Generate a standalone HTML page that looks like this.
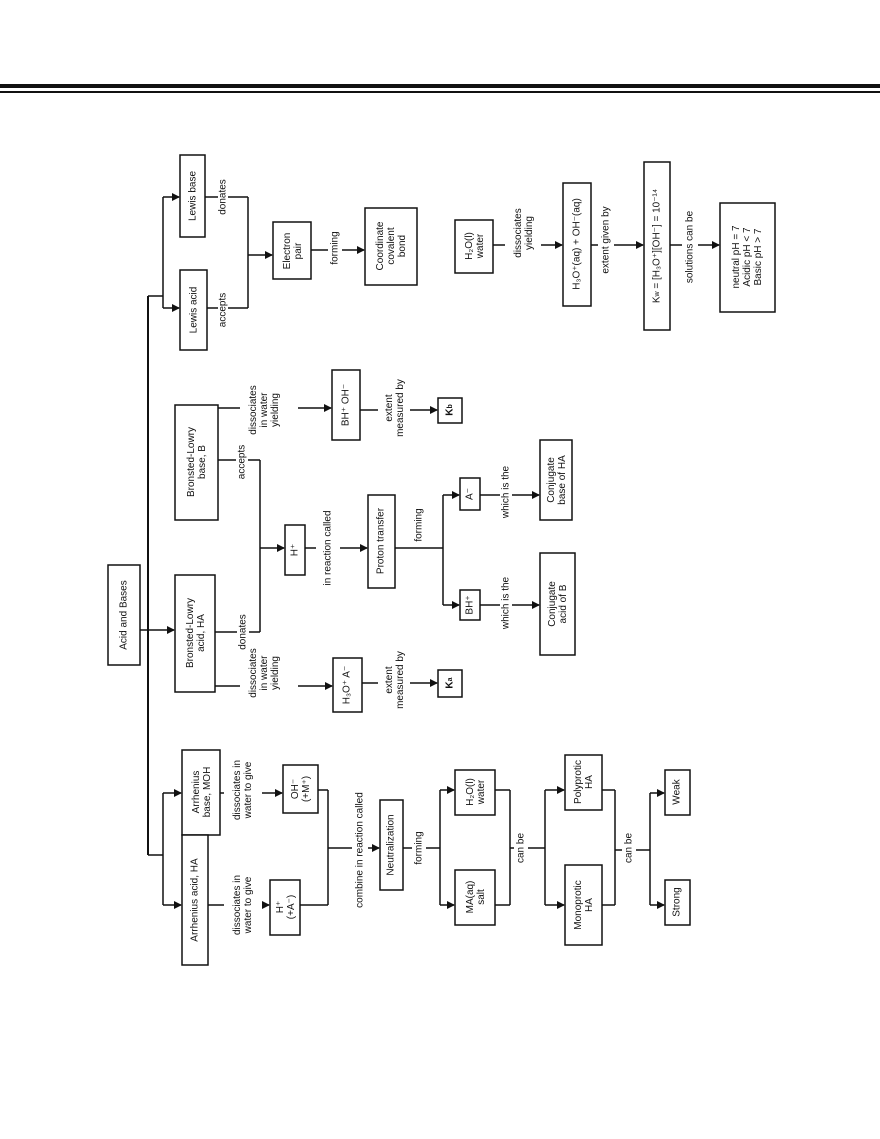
<!DOCTYPE html>
<html><head><meta charset="utf-8"><style>
html,body{margin:0;padding:0;background:#fff;}
svg{display:block}
text{font-family:"Liberation Sans",sans-serif;font-size:10px;fill:#111}
</style></head><body>
<svg width="880" height="1139" viewBox="0 0 880 1139" xmlns="http://www.w3.org/2000/svg">
<defs><marker id="a" markerWidth="8" markerHeight="8" refX="7" refY="4" orient="auto" markerUnits="userSpaceOnUse"><path d="M0,0 L8,4 L0,8 z" fill="#111"/></marker></defs>
<rect x="0" y="84" width="880" height="4" fill="#111"/>
<rect x="0" y="91" width="880" height="2" fill="#111"/>
<g stroke="#111" stroke-width="1.5" fill="#fff">
<rect x="108" y="565" width="32" height="100"/>
<rect x="180" y="155" width="25" height="82"/>
<rect x="180" y="270" width="27" height="80"/>
<rect x="273" y="222" width="38" height="57"/>
<rect x="365" y="208" width="52" height="77"/>
<rect x="175" y="405" width="43" height="115"/>
<rect x="175" y="575" width="40" height="117"/>
<rect x="332" y="370" width="28" height="70"/>
<rect x="438" y="398" width="24" height="25"/>
<rect x="333" y="658" width="29" height="54"/>
<rect x="438" y="670" width="24" height="27"/>
<rect x="285" y="525" width="20" height="50"/>
<rect x="368" y="495" width="27" height="93"/>
<rect x="460" y="478" width="20" height="32"/>
<rect x="460" y="590" width="20" height="30"/>
<rect x="540" y="440" width="32" height="80"/>
<rect x="540" y="553" width="35" height="102"/>
<rect x="182" y="750" width="38" height="85"/>
<rect x="182" y="835" width="26" height="130"/>
<rect x="283" y="765" width="35" height="48"/>
<rect x="270" y="880" width="30" height="55"/>
<rect x="380" y="800" width="23" height="90"/>
<rect x="455" y="770" width="40" height="45"/>
<rect x="455" y="870" width="40" height="55"/>
<rect x="565" y="755" width="37" height="55"/>
<rect x="565" y="865" width="37" height="80"/>
<rect x="665" y="770" width="25" height="45"/>
<rect x="665" y="880" width="25" height="45"/>
<rect x="455" y="220" width="38" height="53"/>
<rect x="563" y="183" width="28" height="123"/>
<rect x="644" y="162" width="26" height="168"/>
<rect x="720" y="203" width="55" height="109"/>
</g>
<g stroke="#111" stroke-width="1.5" fill="none">
<line x1="140" y1="630" x2="174" y2="630" marker-end="url(#a)"/>
<line x1="148" y1="296" x2="148" y2="855" stroke-width="2"/>
<line x1="148" y1="296" x2="163" y2="296"/>
<line x1="163" y1="197" x2="163" y2="308"/>
<line x1="163" y1="197" x2="179" y2="197" marker-end="url(#a)"/>
<line x1="163" y1="308" x2="179" y2="308" marker-end="url(#a)"/>
<line x1="205" y1="197" x2="248" y2="197"/>
<line x1="207" y1="308" x2="248" y2="308"/>
<line x1="248" y1="197" x2="248" y2="308"/>
<line x1="248" y1="255" x2="272" y2="255" marker-end="url(#a)"/>
<line x1="311" y1="250" x2="364" y2="250" marker-end="url(#a)"/>
<line x1="148" y1="855" x2="163" y2="855"/>
<line x1="163" y1="793" x2="163" y2="905"/>
<line x1="163" y1="793" x2="181" y2="793" marker-end="url(#a)"/>
<line x1="163" y1="905" x2="181" y2="905" marker-end="url(#a)"/>
<line x1="218" y1="408" x2="331" y2="408" marker-end="url(#a)"/>
<line x1="218" y1="460" x2="260" y2="460"/>
<line x1="215" y1="632" x2="260" y2="632"/>
<line x1="260" y1="460" x2="260" y2="632"/>
<line x1="260" y1="548" x2="284" y2="548" marker-end="url(#a)"/>
<line x1="305" y1="548" x2="367" y2="548" marker-end="url(#a)"/>
<line x1="215" y1="686" x2="332" y2="686" marker-end="url(#a)"/>
<line x1="360" y1="410" x2="437" y2="410" marker-end="url(#a)"/>
<line x1="362" y1="683" x2="437" y2="683" marker-end="url(#a)"/>
<line x1="395" y1="548" x2="443" y2="548"/>
<line x1="443" y1="495" x2="443" y2="605"/>
<line x1="443" y1="495" x2="459" y2="495" marker-end="url(#a)"/>
<line x1="443" y1="605" x2="459" y2="605" marker-end="url(#a)"/>
<line x1="480" y1="495" x2="539" y2="495" marker-end="url(#a)"/>
<line x1="480" y1="605" x2="539" y2="605" marker-end="url(#a)"/>
<line x1="220" y1="793" x2="282" y2="793" marker-end="url(#a)"/>
<line x1="208" y1="905" x2="269" y2="905" marker-end="url(#a)"/>
<line x1="318" y1="790" x2="328" y2="790"/>
<line x1="300" y1="905" x2="328" y2="905"/>
<line x1="328" y1="790" x2="328" y2="905"/>
<line x1="328" y1="848" x2="379" y2="848" marker-end="url(#a)"/>
<line x1="403" y1="848" x2="440" y2="848"/>
<line x1="440" y1="790" x2="440" y2="905"/>
<line x1="440" y1="790" x2="454" y2="790" marker-end="url(#a)"/>
<line x1="440" y1="905" x2="454" y2="905" marker-end="url(#a)"/>
<line x1="495" y1="790" x2="510" y2="790"/>
<line x1="495" y1="905" x2="510" y2="905"/>
<line x1="510" y1="790" x2="510" y2="905"/>
<line x1="510" y1="848" x2="545" y2="848"/>
<line x1="545" y1="790" x2="545" y2="905"/>
<line x1="545" y1="790" x2="564" y2="790" marker-end="url(#a)"/>
<line x1="545" y1="905" x2="564" y2="905" marker-end="url(#a)"/>
<line x1="602" y1="790" x2="615" y2="790"/>
<line x1="602" y1="905" x2="615" y2="905"/>
<line x1="615" y1="790" x2="615" y2="905"/>
<line x1="615" y1="850" x2="650" y2="850"/>
<line x1="650" y1="793" x2="650" y2="905"/>
<line x1="650" y1="793" x2="664" y2="793" marker-end="url(#a)"/>
<line x1="650" y1="905" x2="664" y2="905" marker-end="url(#a)"/>
<line x1="493" y1="245" x2="562" y2="245" marker-end="url(#a)"/>
<line x1="591" y1="245" x2="643" y2="245" marker-end="url(#a)"/>
<line x1="670" y1="245" x2="719" y2="245" marker-end="url(#a)"/>
</g>
<g text-anchor="middle" dominant-baseline="middle">
<g fill="#fff"><rect x="218" y="175" width="10" height="45"/><rect x="218" y="290" width="10" height="40"/><rect x="328" y="225" width="14" height="45"/><rect x="236" y="440" width="12" height="42"/><rect x="237" y="610" width="12" height="45"/><rect x="240" y="375" width="58" height="70"/><rect x="240" y="640" width="58" height="70"/><rect x="378" y="372" width="32" height="72"/><rect x="378" y="645" width="32" height="72"/><rect x="316" y="500" width="24" height="95"/><rect x="412" y="505" width="14" height="40"/><rect x="500" y="460" width="12" height="60"/><rect x="500" y="570" width="12" height="60"/><rect x="224" y="750" width="38" height="80"/><rect x="224" y="870" width="38" height="70"/><rect x="352" y="770" width="16" height="160"/><rect x="412" y="825" width="14" height="45"/><rect x="514" y="830" width="14" height="35"/><rect x="622" y="830" width="14" height="35"/><rect x="505" y="200" width="36" height="70"/><rect x="598" y="190" width="16" height="100"/><rect x="682" y="200" width="16" height="95"/></g>
<text transform="translate(124,615) rotate(-90)">Acid and Bases</text>
<text transform="translate(193,196) rotate(-90)">Lewis base</text>
<text transform="translate(194,310) rotate(-90)">Lewis acid</text>
<text transform="translate(223,197) rotate(-90)">donates</text>
<text transform="translate(223,310) rotate(-90)">accepts</text>
<text transform="translate(292,251) rotate(-90)"><tspan x="0" dy="-5">Electron</tspan><tspan x="0" dy="11">pair</tspan></text>
<text transform="translate(335,248) rotate(-90)">forming</text>
<text transform="translate(391,246) rotate(-90)"><tspan x="0" dy="-11">Coordinate</tspan><tspan x="0" dy="11">covalent</tspan><tspan x="0" dy="11">bond</tspan></text>
<text transform="translate(196,462) rotate(-90)"><tspan x="0" dy="-5">Bronsted-Lowry</tspan><tspan x="0" dy="11">base, B</tspan></text>
<text transform="translate(242,462) rotate(-90)">accepts</text>
<text transform="translate(269,410) rotate(-90)"><tspan x="0" dy="-16">dissociates</tspan><tspan x="0" dy="11">in water</tspan><tspan x="0" dy="11">yielding</tspan></text>
<text transform="translate(346,405) rotate(-90)">BH⁺  OH⁻</text>
<text transform="translate(394,408) rotate(-90)"><tspan x="0" dy="-5">extent</tspan><tspan x="0" dy="11">measured by</tspan></text>
<text transform="translate(450,410) rotate(-90)" style="font-weight:bold">K<tspan font-size="7">b</tspan></text>
<text transform="translate(195,633) rotate(-90)"><tspan x="0" dy="-5">Bronsted-Lowry</tspan><tspan x="0" dy="11">acid, HA</tspan></text>
<text transform="translate(243,632) rotate(-90)">donates</text>
<text transform="translate(269,673) rotate(-90)"><tspan x="0" dy="-16">dissociates</tspan><tspan x="0" dy="11">in water</tspan><tspan x="0" dy="11">yielding</tspan></text>
<text transform="translate(347,685) rotate(-90)">H₃O⁺  A⁻</text>
<text transform="translate(394,680) rotate(-90)"><tspan x="0" dy="-5">extent</tspan><tspan x="0" dy="11">measured by</tspan></text>
<text transform="translate(450,683) rotate(-90)" style="font-weight:bold">K<tspan font-size="7">a</tspan></text>
<text transform="translate(295,550) rotate(-90)">H⁺</text>
<text transform="translate(328,548) rotate(-90)">in reaction called</text>
<text transform="translate(381,541) rotate(-90)">Proton transfer</text>
<text transform="translate(419,525) rotate(-90)">forming</text>
<text transform="translate(470,494) rotate(-90)">A⁻</text>
<text transform="translate(470,605) rotate(-90)">BH⁺</text>
<text transform="translate(506,492) rotate(-90)">which is the</text>
<text transform="translate(506,603) rotate(-90)">which is the</text>
<text transform="translate(556,480) rotate(-90)"><tspan x="0" dy="-5">Conjugate</tspan><tspan x="0" dy="11">base of HA</tspan></text>
<text transform="translate(557,604) rotate(-90)"><tspan x="0" dy="-5">Conjugate</tspan><tspan x="0" dy="11">acid of B</tspan></text>
<text transform="translate(201,792) rotate(-90)"><tspan x="0" dy="-5">Arrhenius</tspan><tspan x="0" dy="11">base, MOH</tspan></text>
<text transform="translate(195,900) rotate(-90)">Arrhenius acid, HA</text>
<text transform="translate(242,790) rotate(-90)"><tspan x="0" dy="-5">dissociates in</tspan><tspan x="0" dy="11">water to give</tspan></text>
<text transform="translate(242,905) rotate(-90)"><tspan x="0" dy="-5">dissociates in</tspan><tspan x="0" dy="11">water to give</tspan></text>
<text transform="translate(300,789) rotate(-90)"><tspan x="0" dy="-5">OH⁻</tspan><tspan x="0" dy="11">(+M⁺)</tspan></text>
<text transform="translate(285,907) rotate(-90)"><tspan x="0" dy="-5">H⁺</tspan><tspan x="0" dy="11">(+A⁻)</tspan></text>
<text transform="translate(360,850) rotate(-90)">combine in reaction called</text>
<text transform="translate(391,845) rotate(-90)">Neutralization</text>
<text transform="translate(419,848) rotate(-90)">forming</text>
<text transform="translate(475,792) rotate(-90)"><tspan x="0" dy="-5">H₂O(l)</tspan><tspan x="0" dy="11">water</tspan></text>
<text transform="translate(475,897) rotate(-90)"><tspan x="0" dy="-5">MA(aq)</tspan><tspan x="0" dy="11">salt</tspan></text>
<text transform="translate(521,848) rotate(-90)">can be</text>
<text transform="translate(583,782) rotate(-90)"><tspan x="0" dy="-5">Polyprotic</tspan><tspan x="0" dy="11">HA</tspan></text>
<text transform="translate(583,905) rotate(-90)"><tspan x="0" dy="-5">Monoprotic</tspan><tspan x="0" dy="11">HA</tspan></text>
<text transform="translate(629,848) rotate(-90)">can be</text>
<text transform="translate(677,792) rotate(-90)">Weak</text>
<text transform="translate(677,902) rotate(-90)">Strong</text>
<text transform="translate(474,246) rotate(-90)"><tspan x="0" dy="-5">H₂O(l)</tspan><tspan x="0" dy="11">water</tspan></text>
<text transform="translate(523,233) rotate(-90)"><tspan x="0" dy="-5">dissociates</tspan><tspan x="0" dy="11">yielding</tspan></text>
<text transform="translate(577,244) rotate(-90)">H₃O⁺(aq) + OH⁻(aq)</text>
<text transform="translate(606,240) rotate(-90)">extent given by</text>
<text transform="translate(657,246) rotate(-90)">K<tspan font-size="7">w</tspan> = [H₃O⁺][OH⁻] = 10⁻¹⁴</text>
<text transform="translate(690,247) rotate(-90)">solutions can be</text>
<text transform="translate(747,257) rotate(-90)"><tspan x="0" dy="-11">neutral pH = 7</tspan><tspan x="0" dy="11">Acidic pH &lt; 7</tspan><tspan x="0" dy="11">Basic pH &gt; 7</tspan></text>
</g>
</svg>
</body></html>
